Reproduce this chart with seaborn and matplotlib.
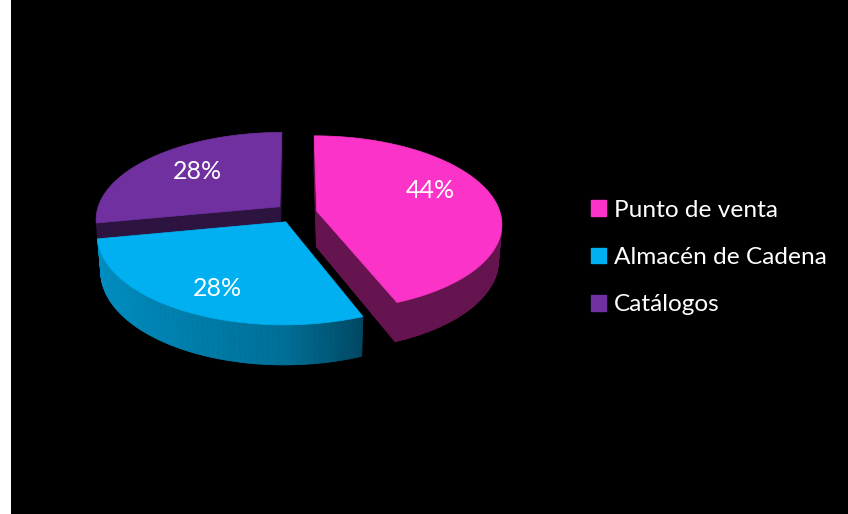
import numpy as np
import matplotlib
matplotlib.use("Agg")
import matplotlib.pyplot as plt
from matplotlib.patches import Polygon, Patch, Rectangle
import seaborn as sns

# Sales channel shares (percent)
categories = ["Punto de venta", "Almacén de Cadena", "Catálogos"]
shares = [44, 28, 28]
slice_colors = ["#FC33C9", "#00B0F0", "#7030A0"]

sns.set_theme(style="dark")
plt.rcParams["font.family"] = ["Lato", "DejaVu Sans"]
palette = sns.color_palette(slice_colors)

W, H = 848, 514
fig = plt.figure(figsize=(W / 100, H / 100), dpi=100, facecolor="white")
ax = fig.add_axes([0, 0, 1, 1])
ax.set_xlim(0, W)
ax.set_ylim(H, 0)
ax.axis("off")
ax.add_patch(Rectangle((11, 0), W - 11, H, facecolor="black", edgecolor="none", zorder=0))

# simple perspective camera for the 3-D pie
ELEV = np.radians(28.0)
DIST = 6.4
FOCAL = 1175.0
CX, CY = 296.0, 213.0
THICK = 0.225
EXPLODE = 0.115
CAM = np.array([0.0, -DIST * np.cos(ELEV), DIST * np.sin(ELEV)])


def project(p):
    X, Y, Z = p
    depth = DIST + Y * np.cos(ELEV) - Z * np.sin(ELEV)
    v = Y * np.sin(ELEV) + Z * np.cos(ELEV)
    return CX + FOCAL * X / depth, CY - FOCAL * v / depth


def depth_of(p):
    return DIST + p[1] * np.cos(ELEV) - p[2] * np.sin(ELEV)


def shade(rgb, f):
    return tuple(np.clip(np.array(rgb) * f, 0, 1))


def wall_factor(nx):
    if nx < 0:
        return 0.63 - 0.19 * nx
    return max(0.40, 0.63 - 0.6 * nx)


fracs = np.array(shares, dtype=float) / np.sum(shares)
edges = np.concatenate([[0.0], np.cumsum(fracs) * 360.0])

side_faces = []
top_faces = []
label_points = []
for i, col in enumerate(palette):
    a0, a1 = edges[i], edges[i + 1]
    mid = np.radians((a0 + a1) / 2)
    off = EXPLODE * np.array([np.sin(mid), np.cos(mid), 0.0])
    angs = np.radians(np.linspace(a0, a1, max(8, int((a1 - a0) / 1.5))))
    rim = [off + np.array([np.sin(a), np.cos(a), 0.0]) for a in angs]
    down = np.array([0, 0, -THICK])

    top_faces.append(([off] + rim, col))

    # outer curved wall
    for k in range(len(angs) - 1):
        p, q = rim[k], rim[k + 1]
        m = (angs[k] + angs[k + 1]) / 2
        n = np.array([np.sin(m), np.cos(m), 0.0])
        quad = [p, q, q + down, p + down]
        c = np.mean(quad, axis=0)
        if np.dot(n, CAM - c) > 0:
            side_faces.append((depth_of(c), quad, shade(col, wall_factor(n[0]))))

    # the two cut faces
    for a, n in ((angs[0], np.array([-np.cos(angs[0]), np.sin(angs[0]), 0.0])),
                 (angs[-1], np.array([np.cos(angs[-1]), -np.sin(angs[-1]), 0.0]))):
        r = off + np.array([np.sin(a), np.cos(a), 0.0])
        quad = [off, r, r + down, off + down]
        c = np.mean(quad, axis=0)
        if np.dot(n, CAM - c) > 0:
            side_faces.append((depth_of(c), quad, shade(col, 0.40)))

    label_points.append(off + 0.6 * np.array([np.sin(mid), np.cos(mid), 0.0]))

for _, quad, c in sorted(side_faces, key=lambda t: -t[0]):
    ax.add_patch(Polygon([project(p) for p in quad], closed=True,
                         facecolor=c, edgecolor=c, linewidth=0.6, zorder=2))

for poly, c in top_faces:
    ax.add_patch(Polygon([project(p) for p in poly], closed=True,
                         facecolor=c, edgecolor=c, linewidth=0.5, zorder=3))

label_nudge = [(8, -11), (-9, 16), (-3, -5)]
for p, v, (dx, dy) in zip(label_points, shares, label_nudge):
    x, y = project(p)
    ax.text(x + dx, y + dy, f"{v}%", color="white", fontsize=18,
            ha="center", va="center", zorder=5)

handles = [Patch(facecolor=c, edgecolor=c) for c in palette]
leg = ax.legend(handles, categories, loc="upper left",
                bbox_to_anchor=(591 / W, 1 - 200 / H), bbox_transform=fig.transFigure,
                frameon=False, fontsize=17.6, labelcolor="white",
                handlelength=0.62, handleheight=0.62, handletextpad=0.32,
                labelspacing=1.07, borderpad=0, borderaxespad=0)

fig.savefig("out.png", dpi=100, facecolor=fig.get_facecolor())
